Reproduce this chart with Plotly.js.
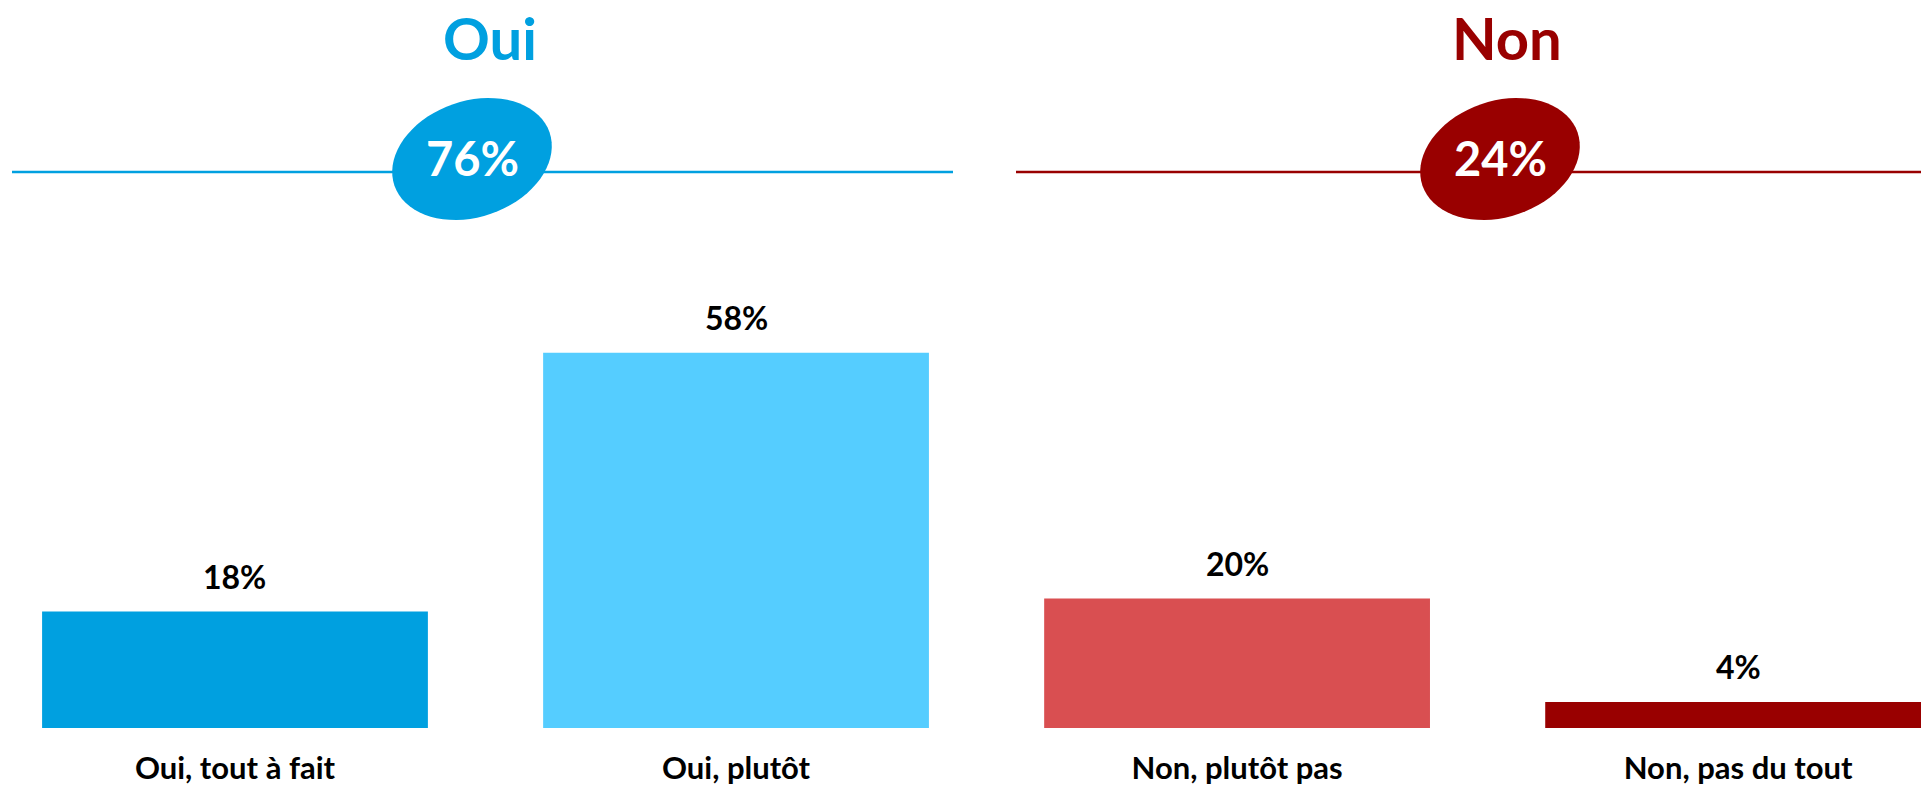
<!DOCTYPE html>
<html>
<head>
<meta charset="utf-8">
<script src="https://cdn.plot.ly/plotly-3.0.1.min.js"></script>
<style>html,body{margin:0;padding:0;background:#fff;}#chart{width:1921px;height:788px;}</style>
</head>
<body>
<div id="chart"></div>
<script>
// ---- data ----
var categories = ["Oui, tout à fait", "Oui, plutôt", "Non, plutôt pas", "Non, pas du tout"];
var values = [18, 58, 20, 4];
var groupTitles = ["Oui", "Non"];
var groupTotals = [76, 24];

// ---- styles ----
var barColors = ["#00A0E0", "#55CDFF", "#D94F51", "#990000"];
var groupColors = ["#00A0E0", "#990000"];
var FONT = "Lato, 'Noto Sans', sans-serif";
var W = 1921, H = 788;

function px(x) { return x / W; }
function py(y) { return 1 - y / H; }

function ellipsePath(cx, cy, a, b, deg) {
  var th = deg * Math.PI / 180, s = "";
  for (var i = 0; i <= 72; i++) {
    var t = i / 72 * 2 * Math.PI;
    var dx = a * Math.cos(t) * Math.cos(th) - b * Math.sin(t) * Math.sin(th);
    var dy = a * Math.cos(t) * Math.sin(th) + b * Math.sin(t) * Math.cos(th);
    s += (i === 0 ? "M" : "L") + px(cx + dx).toFixed(5) + "," + py(cy - dy).toFixed(5) + " ";
  }
  return s + "Z";
}

var groupCenters = [472, 1500];
var titleCenters = [490, 1507];
var lineSpans = [[12, 953], [1016, 1921]];

var shapes = [], annotations = [];
for (var g = 0; g < 2; g++) {
  shapes.push({type: "line", xref: "paper", yref: "paper",
    x0: px(lineSpans[g][0]), x1: px(lineSpans[g][1]), y0: py(172), y1: py(172),
    line: {color: groupColors[g], width: 2.5}});
  shapes.push({type: "path", xref: "paper", yref: "paper",
    path: ellipsePath(groupCenters[g], 159, 82, 58, 19),
    fillcolor: groupColors[g], line: {width: 0}});
  annotations.push({xref: "paper", yref: "paper", x: px(titleCenters[g]), y: py(38),
    xanchor: "center", yanchor: "middle", showarrow: false, text: "<b>" + groupTitles[g] + "</b>",
    font: {family: FONT, size: 58, color: groupColors[g]}});
  annotations.push({xref: "paper", yref: "paper", x: px(groupCenters[g]), y: py(158),
    xanchor: "center", yanchor: "middle", showarrow: false, text: "<b>" + groupTotals[g] + "%</b>",
    font: {family: FONT, size: 47, color: "#ffffff"}});
}
for (var i = 0; i < categories.length; i++) {
  annotations.push({xref: "x", yref: "y", x: categories[i], y: values[i],
    xanchor: "center", yanchor: "bottom", yshift: 14, showarrow: false,
    text: "<b>" + values[i] + "%</b>", font: {family: FONT, size: 32, color: "#000000"}});
}

var trace = {
  type: "bar", x: categories, y: values,
  marker: {color: barColors, line: {width: 0}},
  hoverinfo: "none"
};

var layout = {
  width: W, height: H,
  margin: {l: 0, r: 0, t: 0, b: 0},
  paper_bgcolor: "#ffffff", plot_bgcolor: "#ffffff",
  showlegend: false,
  bargap: 0.23,
  xaxis: {type: "category", categoryorder: "array", categoryarray: categories,
    range: [-0.469, 3.365], showgrid: false, zeroline: false, showline: false, ticks: "",
    automargin: false, ticklabelstandoff: 19,
    tickfont: {family: FONT, size: 31, color: "#000000", weight: "bold"}},
  yaxis: {visible: false, range: [0, 112.5], domain: [60 / H, 1], fixedrange: true},
  shapes: shapes,
  annotations: annotations
};

Plotly.newPlot("chart", [trace], layout, {displayModeBar: false, staticPlot: true});
</script>
</body>
</html>
